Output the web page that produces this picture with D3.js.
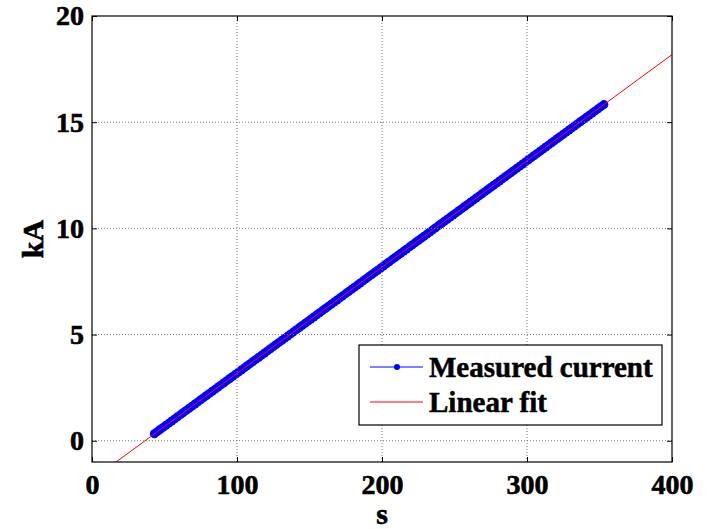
<!DOCTYPE html>
<html>
<head>
<meta charset="utf-8">
<script src="https://cdn.jsdelivr.net/npm/d3@7"></script>
<style>
  body { margin: 0; background: #fff; }
  text { font-family: "Liberation Serif", "Times New Roman", serif; font-weight: bold; fill: #000; }
</style>
</head>
<body>
<div id="main"></div>
<script>
// measured current
var time = [43,45,47,49,51,53,55,57,59,61,
  63,65,67,69,71,73,75,77,79,81,
  83,85,87,89,91,93,95,97,99,101,
  103,105,107,109,111,113,115,117,119,121,
  123,125,127,129,131,133,135,137,139,141,
  143,145,147,149,151,153,155,157,159,161,
  163,165,167,169,171,173,175,177,179,181,
  183,185,187,189,191,193,195,197,199,201,
  203,205,207,209,211,213,215,217,219,221,
  223,225,227,229,231,233,235,237,239,241,
  243,245,247,249,251,253,255,257,259,261,
  263,265,267,269,271,273,275,277,279,281,
  283,285,287,289,291,293,295,297,299,301,
  303,305,307,309,311,313,315,317,319,321,
  323,325,327,329,331,333,335,337,339,341,
  343,345,347,349,351,353];
var current = [0.33,0.43,0.53,0.63,0.73,0.83,0.93,1.03,1.13,1.23,
  1.33,1.43,1.53,1.63,1.73,1.83,1.93,2.03,2.13,2.23,
  2.33,2.43,2.53,2.63,2.73,2.83,2.93,3.03,3.13,3.23,
  3.33,3.43,3.53,3.63,3.73,3.83,3.93,4.03,4.13,4.23,
  4.33,4.43,4.53,4.63,4.73,4.83,4.93,5.03,5.13,5.23,
  5.33,5.43,5.53,5.63,5.73,5.83,5.93,6.03,6.13,6.23,
  6.33,6.43,6.53,6.63,6.73,6.83,6.93,7.03,7.13,7.23,
  7.33,7.43,7.53,7.63,7.73,7.83,7.93,8.03,8.13,8.23,
  8.33,8.43,8.53,8.63,8.73,8.83,8.93,9.03,9.13,9.23,
  9.33,9.43,9.53,9.63,9.73,9.83,9.93,10.03,10.13,10.23,
  10.33,10.43,10.53,10.63,10.73,10.83,10.93,11.03,11.13,11.23,
  11.33,11.43,11.53,11.63,11.73,11.83,11.93,12.03,12.13,12.23,
  12.33,12.43,12.53,12.63,12.73,12.83,12.93,13.03,13.13,13.23,
  13.33,13.43,13.53,13.63,13.73,13.83,13.93,14.03,14.13,14.23,
  14.33,14.43,14.53,14.63,14.73,14.83,14.93,15.03,15.13,15.23,
  15.33,15.43,15.53,15.63,15.73,15.83];

// linear fit end points
var fitTime = [0, 400];
var fitCurrent = [-1.83, 18.18];

var xTicks = [0, 100, 200, 300, 400];
var yTicks = [0, 5, 10, 15, 20];
var legendLabels = ["Measured current", "Linear fit"];

var width = 709, height = 529;
var margin = { left: 92, right: 37, top: 16, bottom: 67 };
var tick_len = 5;

var svg = d3.select('#main').append('svg')
  .attr('width', width)
  .attr('height', height);

var x = d3.scaleLinear().domain([0, 400]).range([margin.left, width - margin.right]);
var y = d3.scaleLinear().domain([-1, 20]).range([height - margin.bottom, margin.top]);

svg.append('clipPath').attr('id', 'clip')
  .append('rect')
  .attr('x', x(0)).attr('y', y(20))
  .attr('width', x(400) - x(0)).attr('height', y(-1) - y(20));

// data
var plot = svg.append('g').attr('clip-path', 'url(#clip)');
var pts = d3.zip(time, current);
plot.append('path').datum(pts)
  .attr('fill', 'none').attr('stroke', '#0000ff').attr('stroke-width', 1)
  .attr('d', d3.line().x(function(d) { return x(d[0]); }).y(function(d) { return y(d[1]); }));
plot.selectAll('circle').data(pts).enter().append('circle')
  .attr('cx', function(d) { return x(d[0]); })
  .attr('cy', function(d) { return y(d[1]); })
  .attr('r', 4.5)
  .attr('fill', '#0000ff');
plot.append('path').datum(d3.zip(fitTime, fitCurrent))
  .attr('fill', 'none').attr('stroke', '#ff0000').attr('stroke-width', 1)
  .attr('d', d3.line().x(function(d) { return x(d[0]); }).y(function(d) { return y(d[1]); }));

// grid, drawn on top of the data
var grid = svg.append('g');
grid.selectAll('.gx').data(xTicks.slice(1, -1)).enter().append('line')
  .attr('x1', function(d) { return x(d); }).attr('x2', function(d) { return x(d); })
  .attr('y1', y(-1)).attr('y2', y(20))
  .attr('stroke', '#777').attr('stroke-width', 1).attr('stroke-dasharray', '1,2');
grid.selectAll('.gy').data(yTicks.slice(0, -1)).enter().append('line')
  .attr('y1', function(d) { return y(d); }).attr('y2', function(d) { return y(d); })
  .attr('x1', x(0)).attr('x2', x(400))
  .attr('stroke', '#777').attr('stroke-width', 1).attr('stroke-dasharray', '1,2');

// axes (inward ticks on all four sides)
var axes = svg.append('g');
axes.append('g').attr('transform', 'translate(0,' + y(-1) + ')')
  .call(d3.axisBottom(x).tickValues(xTicks).tickSizeInner(-tick_len).tickSizeOuter(0).tickPadding(12));
axes.append('g').attr('transform', 'translate(0,' + y(20) + ')')
  .call(d3.axisTop(x).tickValues(xTicks).tickSizeInner(-tick_len).tickSizeOuter(0).tickFormat(''));
axes.append('g').attr('transform', 'translate(' + x(0) + ',0)')
  .call(d3.axisLeft(y).tickValues(yTicks).tickSizeInner(-tick_len).tickSizeOuter(0).tickPadding(8));
axes.append('g').attr('transform', 'translate(' + x(400) + ',0)')
  .call(d3.axisRight(y).tickValues(yTicks).tickSizeInner(-tick_len).tickSizeOuter(0).tickFormat(''));
axes.selectAll('.domain').remove();
axes.selectAll('.tick line').attr('stroke', '#000');
axes.selectAll('.tick text')
  .style('font-family', '"Liberation Serif", serif')
  .style('font-weight', 'bold')
  .style('font-size', '28px')
  .attr('stroke', '#000').attr('stroke-width', 0.6);

svg.append('rect')
  .attr('x', x(0)).attr('y', y(20))
  .attr('width', x(400) - x(0)).attr('height', y(-1) - y(20))
  .attr('fill', 'none').attr('stroke', '#000').attr('stroke-width', 1.2);

// axis labels
svg.append('text')
  .attr('x', (x(0) + x(400)) / 2).attr('y', 524)
  .attr('text-anchor', 'middle').style('font-size', '30px')
  .attr('stroke', '#000').attr('stroke-width', 0.6)
  .text('s');
svg.append('text')
  .attr('transform', 'translate(43,' + (y(-1) + y(20)) / 2 + ') rotate(-90)')
  .attr('text-anchor', 'middle').style('font-size', '30px')
  .attr('stroke', '#000').attr('stroke-width', 0.6)
  .text('kA');

// legend
var legend = svg.append('g').attr('transform', 'translate(359,345)');
legend.append('rect')
  .attr('width', 303).attr('height', 80)
  .attr('fill', '#fff').attr('stroke', '#000').attr('stroke-width', 1.2);
var rows = legend.selectAll('.row').data(legendLabels).enter().append('g')
  .attr('transform', function(d, i) { return 'translate(0,' + (22 + i * 35) + ')'; });
rows.append('line')
  .attr('x1', 11).attr('x2', 64)
  .attr('stroke', function(d, i) { return i === 0 ? '#0000ff' : '#ff0000'; })
  .attr('stroke-width', 1);
rows.filter(function(d, i) { return i === 0; }).append('circle')
  .attr('cx', 38).attr('r', 3).attr('fill', '#0000ff');
rows.append('text')
  .attr('x', 70).attr('y', 10)
  .style('font-size', '29px')
  .attr('stroke', '#000').attr('stroke-width', 0.5)
  .text(function(d) { return d; });
</script>
</body>
</html>
